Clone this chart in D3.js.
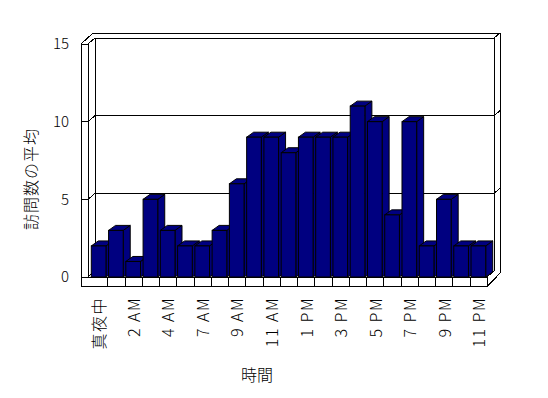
<!DOCTYPE html>
<html>
<head>
<meta charset="utf-8">
<script src="https://cdn.jsdelivr.net/npm/d3@7"></script>
<style>
  body { margin: 0; background: #fff; }
  text { font-family: "Noto Sans CJK JP", "DejaVu Sans", sans-serif; fill: #000; font-weight: 300; }
</style>
</head>
<body>
<script>
// categories (hours) and average visit counts
const hours = ["真夜中", "1 AM", "2 AM", "3 AM", "4 AM", "6 AM", "7 AM", "8 AM", "9 AM", "10 AM",
               "11 AM", "12 PM", "1 PM", "2 PM", "3 PM", "4 PM", "5 PM", "6 PM", "7 PM", "8 PM",
               "9 PM", "10 PM", "11 PM"];
const visits = [2, 3, 1, 5, 3, 2, 2, 3, 6, 9, 9, 8, 9, 9, 9, 11, 10, 4, 10, 2, 5, 2, 2];
const yTicks = [0, 5, 10, 15];
const yTitle = "訪問数の平均";
const xTitle = "時間";

const svg = d3.select("body").append("svg")
    .attr("width", 548)
    .attr("height", 398);

const x = d3.scaleBand().domain(hours).range([90, 487]).paddingInner(0.15).paddingOuter(0.075);
const y = d3.scaleLinear().domain([0, 15]).range([277, 44]);

const navy = "#000080";
const bd = [7, -5];   // bar depth
const wd = [7, -6];   // wall depth
const left = 81, wallIn = 88, right = 487, floorY = 277, floorB = 285;

const g = svg.append("g")
    .attr("fill", "none")
    .attr("stroke", "#000")
    .attr("stroke-width", 1)
    .attr("shape-rendering", "crispEdges");

// outer silhouette of walls + floor
g.append("path")
    .attr("fill", "#fff")
    .attr("d", `M${left},${y(15)} L93,33 L500,33 L500,273 L${right + 1},${floorB + 1} L${left},${floorB + 1} Z`);

// back wall front face
const bx0 = wallIn + wd[0], bx1 = right + wd[0];
g.append("path")
    .attr("d", `M${wallIn},${y(15)} L${bx0},${y(15) + wd[1]} L${bx1},${y(15) + wd[1]} L500,33
                M${bx0},${y(15) + wd[1]} L${bx0},${floorY + wd[1]}
                M${bx1},${y(15) + wd[1]} L${bx1},${floorY + wd[1]}
                M${wallIn},${y(15)} L${wallIn},${floorY}
                M${wallIn},${floorY} L${bx0},${floorY + wd[1]} L${bx1},${floorY + wd[1]}
                M${right},${floorY} L${bx1},${floorY + wd[1]}`);

// ticks, gridlines
yTicks.forEach(v => {
    const yy = y(v);
    let d = `M${left},${yy} L${wallIn},${yy}`;
    if (v > 0 && v < 15) {
        d += ` M${wallIn},${yy} L${bx0},${yy + wd[1]} L${bx1},${yy + wd[1]} L500,${yy + wd[1] - 5}`;
    }
    g.append("path").attr("d", d);
});

// bars, left to right
const w = x.bandwidth();
visits.forEach((v, i) => {
    const x0 = x(hours[i]), x1 = x0 + w, yt = y(v);
    const bar = g.append("g").attr("fill", navy).attr("shape-rendering", "auto");
    bar.append("path")
        .attr("d", `M${x1},${yt} L${x1 + bd[0]},${yt + bd[1]} L${x1 + bd[0]},${floorY + bd[1]} L${x1},${floorY} Z`);
    bar.append("path")
        .attr("d", `M${x0},${yt} L${x0 + bd[0]},${yt + bd[1]} L${x1 + bd[0]},${yt + bd[1]} L${x1},${yt} Z`);
    bar.append("rect")
        .attr("x", x0).attr("y", yt)
        .attr("width", w).attr("height", floorY - yt);
});

// floor front face with category ticks
g.append("rect")
    .attr("fill", "#fff")
    .attr("x", left).attr("y", floorY)
    .attr("width", right - left).attr("height", floorB - floorY + 1);
g.append("path")
    .attr("d", `M${right},${floorB + 1} L500,273`);
hours.forEach((h, i) => {
    if (i === 0) return;
    const xx = Math.round(x(h) - x.step() * x.paddingInner() / 2);
    g.append("path").attr("d", `M${xx},${floorY} L${xx},${floorB + 1}`);
});

// y tick labels
svg.append("g").selectAll("text")
    .data(yTicks)
    .join("text")
    .attr("x", 69)
    .attr("y", d => y(d))
    .attr("dy", "0.36em")
    .attr("text-anchor", "end")
    .attr("font-size", 15)
    .text(d => d);

// x tick labels (every other hour)
svg.append("g").selectAll("text")
    .data(hours.filter((h, i) => i % 2 === 0))
    .join("text")
    .attr("transform", d => `translate(${x(d) + w / 2 + 1},297) rotate(-90)`)
    .attr("dy", "0.36em")
    .attr("text-anchor", "end")
    .attr("font-size", 16)
    .attr("letter-spacing", 1.5)
    .text(d => d);

// axis titles
svg.append("text")
    .attr("transform", "translate(31,179) rotate(-90)")
    .attr("dy", "0.36em")
    .attr("text-anchor", "middle")
    .attr("font-size", 16)
    .attr("letter-spacing", 1)
    .text(yTitle);

svg.append("text")
    .attr("x", 257)
    .attr("y", 375)
    .attr("dy", "0.36em")
    .attr("text-anchor", "middle")
    .attr("font-size", 16)
    .text(xTitle);
</script>
</body>
</html>
